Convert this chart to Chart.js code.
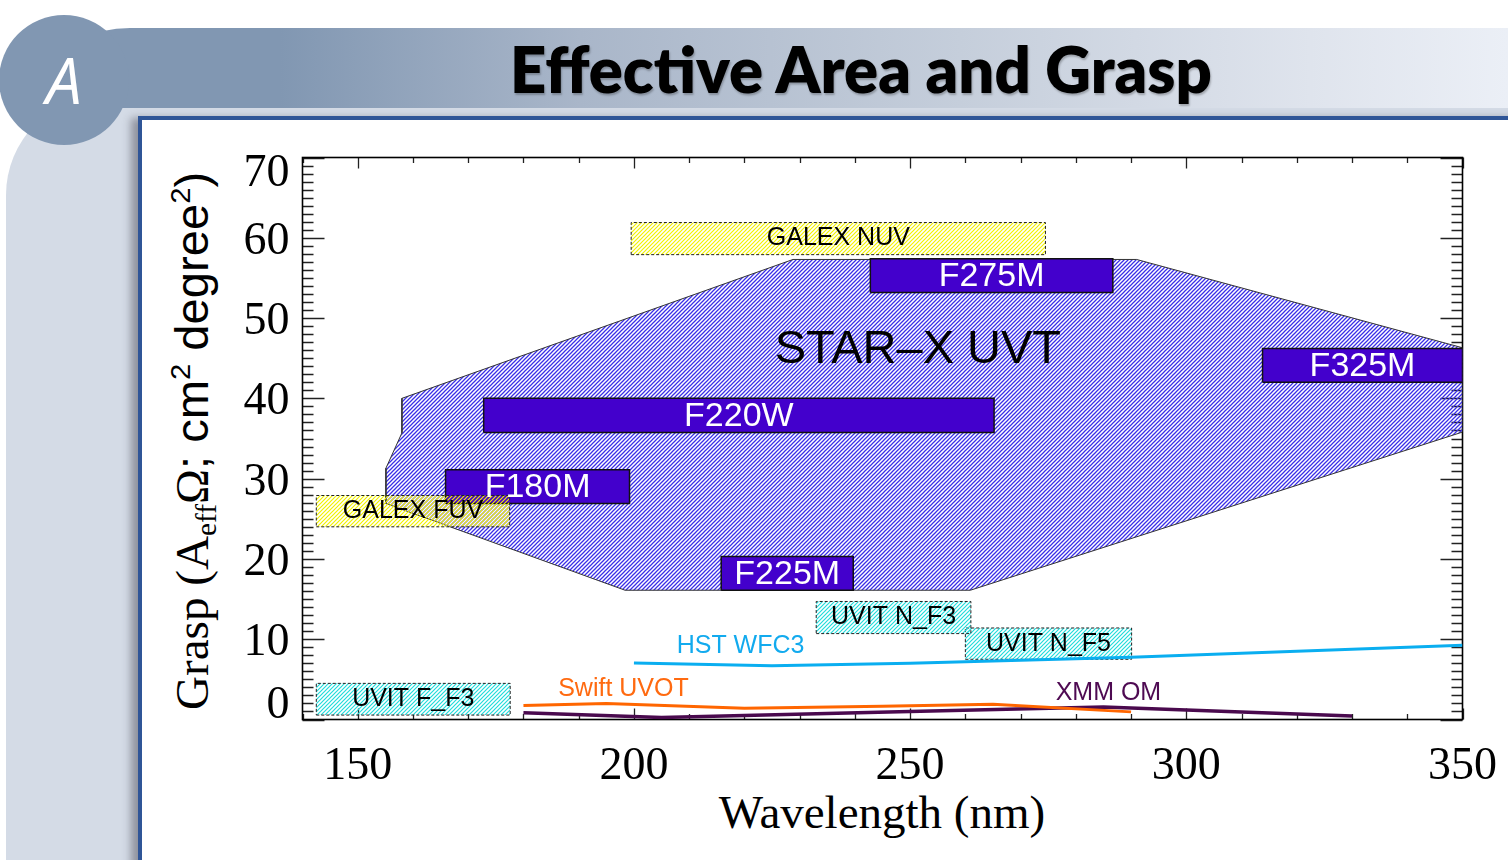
<!DOCTYPE html>
<html lang="en">
<head>
<meta charset="UTF-8">
<title>Effective Area and Grasp</title>
<script src="https://cdn.jsdelivr.net/npm/chart.js"></script>
<style>
    body {
        margin: 0;
        width: 1508px;
        height: 860px;
        overflow: hidden;
        position: relative;
        background: #fff;
        font-family: 'Liberation Sans', Arial, sans-serif;
    }
    #frame {
        position: absolute; left: 6px; top: 95px; width: 1600px; height: 900px;
        background: #d4dbe6;
        border-top-left-radius: 100px;
    }
    #banner {
        position: absolute; left: 60px; top: 28px; width: 1490px; height: 80px;
        border-radius: 70px 40px 0 0 / 40px 40px 0 0;
        background: linear-gradient(to right, #8197b2 0px, #8197b2 220px, #a9b6c9 520px, #c5cedb 900px, #dfe4ed 1250px, #ebeff6 1448px);
    }
    #badge {
        position: absolute; left: -1px; top: 15px; width: 130px; height: 130px;
        border-radius: 50%;
        background: #8197b2;
        color: #fff;
        font: italic 400 64px 'Open Sans', sans-serif;
        text-align: center;
        line-height: 130px;
    }
    #panel {
        position: absolute; left: 138px; top: 116px; width: 1400px; height: 800px;
        background: #fff;
        border-top: 4px solid #2f5597;
        border-left: 4px solid #2f5597;
        box-shadow: -7px 2px 8px rgba(60, 60, 70, 0.45);
    }
    #title {
        position: absolute; left: 510px; top: 37px;
        font: 800 64px Lato, sans-serif;
        line-height: 64px;
        white-space: nowrap;
        color: #000;
        transform-origin: left center;
        text-shadow: 1px 2px 2px rgba(0, 0, 0, 0.25);
    }
    #ytitle {
        position: absolute; left: 192px; top: 441px;
        font: 46px 'Liberation Sans', Arial, sans-serif;
        line-height: 46px;
        white-space: nowrap;
        color: #000;
    }
    #ytitle .serif { font-family: 'Liberation Serif', 'Times New Roman', serif; }
    #ytitle sub, #ytitle sup { font-size: 0.62em; line-height: 0; }
    #ytitle sub { vertical-align: -0.3em; }
    #ytitle sup { vertical-align: 0.6em; }
    #xtitle {
        position: absolute; left: 882px; top: 789px;
        transform: translateX(-50%);
        font: 47px 'Liberation Serif', 'Times New Roman', serif;
        line-height: 47px;
        white-space: nowrap;
        color: #000;
    }
    #grasp { position: absolute; left: 0; top: 0; }
</style>
</head>
<body>
<div id="frame"></div>
<div id="banner"></div>
<div id="badge">A</div>
<div id="panel"></div>
<div id="title">Effective Area and Grasp</div>
<div id="ytitle"><span class="serif">Grasp (A<sub>eff</sub>Ω</span>; cm<sup>2</sup> degree<sup>2</sup>)</div>
<div id="xtitle">Wavelength (nm)</div>
<canvas id="grasp" width="1508" height="860"></canvas>

<script>
    // axis ranges and tick labels
    const xRange = [140, 350];
    const yRange = [0, 70];
    const xTicks = [150, 200, 250, 300, 350];
    const yTicks = [0, 10, 20, 30, 40, 50, 60, 70];

    // STAR-X UVT grasp envelope (nm, grasp)
    const uvtWave  = [158.0, 158.0, 155.1, 155.1, 198.4, 260.9, 350.0, 350.0, 291.0, 228.8, 158.0];
    const uvtGrasp = [40.0, 35.7, 31.3, 26.9, 16.1, 16.1, 35.8, 46.3, 57.3, 57.3, 40.0];

    // STAR-X filters: wavelength span and grasp span
    const filterNames = ['F180M', 'F220W', 'F225M', 'F275M', 'F325M'];
    const filterWave  = [[165.9, 199.2], [172.8, 265.2], [215.8, 239.7], [242.8, 286.7], [313.8, 350.0]];
    const filterGrasp = [[26.9, 31.1], [35.75, 40.0], [16.1, 20.3], [53.2, 57.4], [42.0, 46.2]];

    // other missions shown as boxes
    const otherNames = ['GALEX NUV', 'GALEX FUV', 'UVIT F_F3', 'UVIT N_F3', 'UVIT N_F5'];
    const otherWave  = [[199.5, 274.5], [142.5, 177.5], [142.5, 177.6], [233.0, 261.0], [260.0, 290.1]];
    const otherGrasp = [[57.9, 61.9], [24.0, 27.9], [0.55, 4.5], [10.7, 14.7], [7.5, 11.4]];

    // other missions shown as curves
    const hstWave    = [200, 225, 250, 290, 350];
    const hstGrasp   = [7.05, 6.7, 7.0, 7.75, 9.25];
    const swiftWave  = [180, 195, 220, 245, 265, 290];
    const swiftGrasp = [1.75, 2.0, 1.4, 1.65, 1.9, 0.95];
    const xmmWave    = [180, 205, 248, 285, 330];
    const xmmGrasp   = [0.85, 0.25, 0.95, 1.55, 0.45];

    // text annotations, placed in data units
    const notes = [
        { text: 'STAR\u2013X UVT', x: 251.4, y: 46.0, color: '#000', size: 47 },
        { text: 'HST WFC3', x: 219.3, y: 9.1, color: '#12aaee', size: 25 },
        { text: 'Swift UVOT', x: 198.1, y: 3.75, color: '#ff6a10', size: 25 },
        { text: 'XMM OM', x: 285.9, y: 3.25, color: '#4e0a52', size: 25 }
    ];

    function hatch(color, width) {
        const s = 4;
        const c = document.createElement('canvas');
        c.width = s; c.height = s;
        const g = c.getContext('2d');
        g.strokeStyle = color;
        g.lineWidth = width;
        g.beginPath();
        g.moveTo(-1, s + 1); g.lineTo(s + 1, -1);
        g.moveTo(-1, 1); g.lineTo(1, -1);
        g.moveTo(s - 1, s + 1); g.lineTo(s + 1, s - 1);
        g.stroke();
        return g.createPattern(c, 'repeat');
    }

    const zip = (xs, ys) => xs.map((v, i) => ({ x: v, y: ys[i] }));
    const box = (w, g) => [
        { x: w[0], y: g[0] }, { x: w[1], y: g[0] }, { x: w[1], y: g[1] },
        { x: w[0], y: g[1] }, { x: w[0], y: g[0] }
    ];

    const blueHatch = hatch('#3a2ee8', 1.25);
    const yellowHatch = hatch('#f2f200', 1.2);
    const cyanHatch = hatch('#22dcdc', 1.2);

    const datasets = [];
    datasets.push({
        data: zip(uvtWave, uvtGrasp), showLine: true, fill: 'shape',
        backgroundColor: blueHatch, borderColor: '#333', borderWidth: 1, order: 4
    });
    filterNames.forEach((n, i) => datasets.push({
        data: box(filterWave[i], filterGrasp[i]), showLine: true, fill: 'shape',
        backgroundColor: '#4300cc', borderColor: '#111', borderWidth: 1.5, order: 3
    }));
    otherNames.forEach((n, i) => datasets.push({
        data: box(otherWave[i], otherGrasp[i]), showLine: true, fill: 'shape',
        backgroundColor: n.startsWith('GALEX') ? yellowHatch : cyanHatch,
        borderColor: '#222', borderWidth: 1, borderDash: [3, 2], order: 2
    }));
    datasets.push({ data: zip(hstWave, hstGrasp), showLine: true, borderColor: '#0aaef0', borderWidth: 3, order: 1 });
    datasets.push({ data: zip(swiftWave, swiftGrasp), showLine: true, borderColor: '#ff6600', borderWidth: 3, order: 1 });
    datasets.push({ data: zip(xmmWave, xmmGrasp), showLine: true, borderColor: '#4a0a4e', borderWidth: 3.5, order: 1 });

    // IDL-style box frame with inward ticks, and tick labels
    const framePlugin = {
        id: 'frame',
        beforeDatasetsDraw(chart) {
            const { ctx, chartArea: a, scales: { x, y } } = chart;
            ctx.save();
            ctx.strokeStyle = '#222';
            ctx.lineWidth = 1.3;
            ctx.beginPath();
            for (let v = xRange[0]; v <= xRange[1]; v += 10) {
                const px = Math.round(x.getPixelForValue(v)) + 0.5;
                const len = v % 50 === 0 ? 11 : 5.5;
                ctx.moveTo(px, a.bottom); ctx.lineTo(px, a.bottom - len);
                ctx.moveTo(px, a.top); ctx.lineTo(px, a.top + len);
            }
            for (let v = yRange[0]; v <= yRange[1]; v += 1) {
                const py = Math.round(y.getPixelForValue(v)) + 0.5;
                const len = v % 10 === 0 ? 22 : 11;
                ctx.moveTo(a.left, py); ctx.lineTo(a.left + len, py);
                ctx.moveTo(a.right, py); ctx.lineTo(a.right - len, py);
            }
            ctx.stroke();
            ctx.strokeStyle = '#000';
            ctx.lineWidth = 1.6;
            ctx.strokeRect(a.left, a.top, a.right - a.left, a.bottom - a.top);

            ctx.fillStyle = '#000';
            ctx.font = "46px 'Liberation Serif', 'Times New Roman', serif";
            ctx.textBaseline = 'alphabetic';
            ctx.textAlign = 'center';
            xTicks.forEach(v => ctx.fillText(String(v), x.getPixelForValue(v), a.bottom + 59));
            ctx.textAlign = 'right';
            yTicks.forEach(v => {
                const base = Math.min(Math.max(y.getPixelForValue(v) + 16, a.top + 28), a.bottom - 1.5);
                ctx.fillText(String(v), a.left - 13, base);
            });
            ctx.restore();
        },
        afterDatasetsDraw(chart) {
            const { ctx, scales: { x, y } } = chart;
            ctx.save();
            ctx.textAlign = 'center';
            ctx.textBaseline = 'middle';
            ctx.fillStyle = '#fff';
            ctx.font = "34px 'Liberation Sans', Arial, sans-serif";
            filterNames.forEach((n, i) => {
                const cx = (x.getPixelForValue(filterWave[i][0]) + x.getPixelForValue(filterWave[i][1])) / 2;
                const cy = (y.getPixelForValue(filterGrasp[i][0]) + y.getPixelForValue(filterGrasp[i][1])) / 2;
                ctx.fillText(n, cx, cy + 1);
            });
            ctx.fillStyle = '#000';
            ctx.font = "25px 'Liberation Sans', Arial, sans-serif";
            otherNames.forEach((n, i) => {
                const cx = (x.getPixelForValue(otherWave[i][0]) + x.getPixelForValue(otherWave[i][1])) / 2;
                const cy = (y.getPixelForValue(otherGrasp[i][0]) + y.getPixelForValue(otherGrasp[i][1])) / 2;
                ctx.fillText(n, cx, cy);
            });
            notes.forEach(t => {
                ctx.fillStyle = t.color;
                ctx.font = t.size + "px 'Liberation Sans', Arial, sans-serif";
                ctx.fillText(t.text, x.getPixelForValue(t.x), y.getPixelForValue(t.y));
            });
            ctx.restore();
        }
    };

    new Chart(document.getElementById('grasp').getContext('2d'), {
        type: 'scatter',
        data: { datasets: datasets },
        options: {
            responsive: false,
            animation: false,
            devicePixelRatio: 1,
            layout: { padding: { left: 302.5, right: 45.5, top: 157.5, bottom: 140.5 } },
            plugins: { legend: { display: false }, tooltip: { enabled: false } },
            elements: { point: { radius: 0, hoverRadius: 0 }, line: { tension: 0 } },
            scales: {
                x: { type: 'linear', min: xRange[0], max: xRange[1], display: false },
                y: { type: 'linear', min: yRange[0], max: yRange[1], display: false }
            }
        },
        plugins: [framePlugin]
    });

    // squeeze the page title and axis title to the widths they take in the figure
    const title = document.getElementById('title');
    title.style.transform = 'scaleX(' + (702 / title.offsetWidth) + ')';
    const yt = document.getElementById('ytitle');
    yt.style.transform = 'translate(-50%, -50%) rotate(-90deg) scaleX(' + (538 / yt.offsetWidth) + ')';
</script>
</body>
</html>
